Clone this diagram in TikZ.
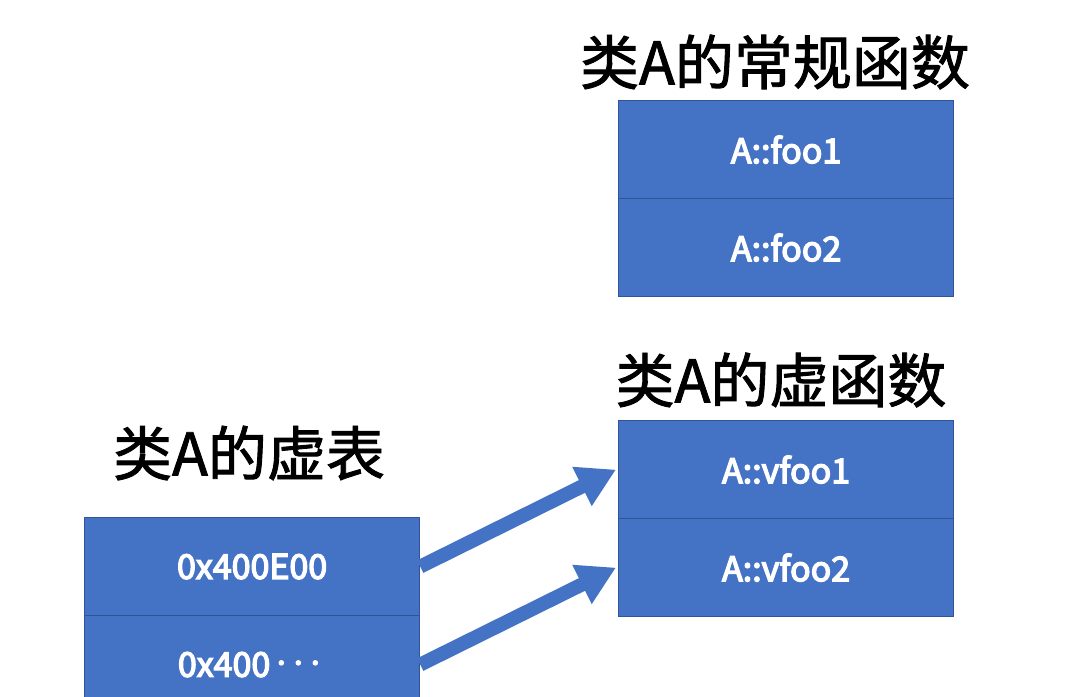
\documentclass[tikz,border=0pt]{standalone}
\usepackage{fontspec}
\setmainfont{Noto Sans CJK SC}
\newfontfamily\boxfont[FakeBold=4]{Noto Sans CJK SC}
\newfontfamily\titlefont[FakeBold=1.5]{Noto Sans CJK SC}
\usetikzlibrary{arrows.meta}
\definecolor{cellblue}{HTML}{4472C4}
\definecolor{celledge}{HTML}{2F5597}
\tikzset{
  cell/.style={draw=celledge, line width=1.2pt, fill=cellblue, text=white,
    minimum width=335pt, minimum height=98pt, inner sep=0pt, anchor=north west,
    font=\boxfont\fontsize{34}{36}\selectfont},
  title/.style={text=black, inner sep=0pt, font=\titlefont\fontsize{59}{62}\selectfont},
  ptr/.style={draw=cellblue, line width=14pt,
    -{Triangle[width=41pt,length=38pt]}}
}
\begin{document}
\begin{tikzpicture}[x=1pt,y=-1pt]
\useasboundingbox (0,0) rectangle (1084,696);
\fill[white] (0,0) rectangle (1084,696);
\begin{scope}
\clip (0,0) rectangle (1084,696);
% regular functions
\node[title] (t1) at (775,62) {类A的常规函数};
\node[cell] (f1) at (618,100) {A::foo1};
\node[cell] (f2) at (618,198) {A::foo2};
% virtual functions
\node[title] (t2) at (781,380) {类A的虚函数};
\node[cell] (v1) at (618,420) {A::vfoo1};
\node[cell] (v2) at (618,518) {A::vfoo2};
% vtable
\node[title] (t3) at (249,453) {类A的虚表};
\node[cell] (r1) at (84,517) {0x400E00};
\node[cell] (r2) at (84,615) {0x400\raisebox{0.3ex}{\fontsize{22}{22}\selectfont ·\kern-5pt·\kern-5pt·}};
% pointers
\draw[ptr] (r1.east) -- ([xshift=-2pt]v1.west);
\draw[ptr] (r2.east) -- ([xshift=-2pt]v2.west);
\end{scope}
\end{tikzpicture}
\end{document}
